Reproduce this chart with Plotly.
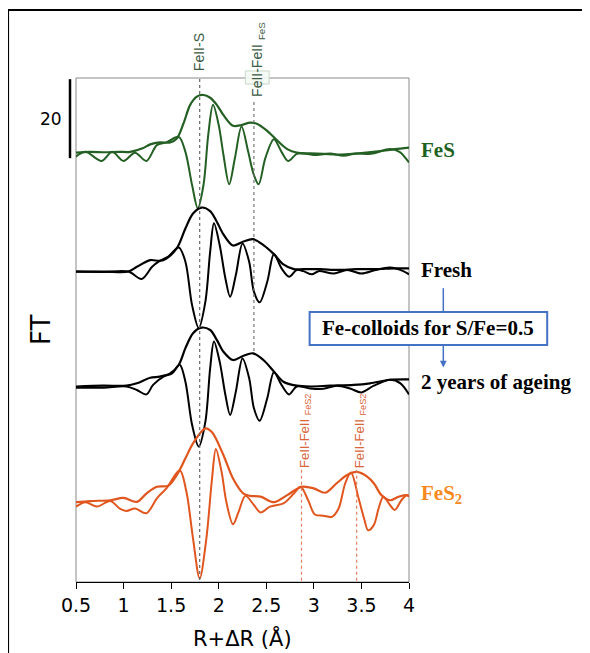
import plotly.graph_objects as go

# ---------------- data ----------------
r_fes_mag = [0.50, 0.65, 0.80, 0.95, 1.07, 1.20, 1.28, 1.38, 1.49, 1.56, 1.63, 1.70, 1.77, 1.84, 1.91,
             1.98, 2.05, 2.15, 2.24, 2.33, 2.40, 2.50, 2.61, 2.72, 2.82, 2.96, 3.10, 3.24, 3.40, 3.55,
             3.70, 3.85, 4.00]
fes_mag = [0.6, 0.8, 0.7, 0.8, 0.8, 1.7, 2.7, 3.2, 3.2, 4.2, 8.0, 12.7, 14.8, 15.2, 14.5,
           12.7, 10.1, 7.4, 7.6, 8.2, 7.9, 6.3, 3.8, 1.5, 0.6, 0.4, 0.3, 0.1, 0.3, 0.6,
           1.0, 1.5, 1.9]
r_fes_im = [0.50, 0.60, 0.77, 0.88, 1.00, 1.12, 1.24, 1.35, 1.45, 1.58, 1.65, 1.72, 1.78, 1.84, 1.89,
            1.94, 2.00, 2.05, 2.11, 2.17, 2.24, 2.31, 2.37, 2.42, 2.49, 2.58, 2.66, 2.73, 2.82, 2.89,
            3.03, 3.17, 3.31, 3.45, 3.60, 3.80, 3.90, 4.00]
fes_im = [-0.4, 0.8, -1.5, 0.8, -1.5, 0.6, -1.5, 2.5, 3.2, 4.6, 0.8, -7.6, -13.5, -7.6, 5.1,
          12.7, 7.6, 0.0, -7.4, -0.8, 7.2, 0.8, -5.1, -7.4, -0.8, 4.0, 0.8, -1.5, 0.3, 0.4,
          0.0, 0.4, -0.2, 0.4, 0.3, 1.5, 0.8, -1.9]

r_fresh_mag = [0.50, 0.80, 1.05, 1.14, 1.28, 1.38, 1.45, 1.56, 1.65, 1.73, 1.82, 1.91, 1.98, 2.05, 2.15,
               2.26, 2.36, 2.47, 2.58, 2.68, 2.79, 2.89, 3.07, 3.25, 3.45, 3.65, 3.85, 4.00]
fresh_mag = [0.2, 0.2, 0.2, 1.4, 3.1, 2.9, 3.5, 6.1, 11.1, 14.9, 16.4, 15.5, 12.8, 9.6, 6.8,
             7.8, 8.4, 6.9, 4.6, 2.0, 0.8, 0.8, 0.8, 0.6, 0.8, 0.8, 1.0, 1.0]
r_fresh_im = [0.50, 0.80, 1.05, 1.19, 1.30, 1.38, 1.47, 1.58, 1.65, 1.72, 1.79, 1.86, 1.91, 1.95, 2.01,
              2.07, 2.12, 2.18, 2.25, 2.32, 2.37, 2.43, 2.51, 2.58, 2.66, 2.74, 2.82, 2.89, 2.98, 3.05,
              3.21, 3.35, 3.50, 3.65, 3.80, 3.94, 4.00]
fresh_im = [0.2, 0.1, 0.2, -1.7, 1.4, 2.9, 4.0, 6.3, 2.7, -8.3, -14.1, -7.4, 5.2, 12.4, 6.9,
            -1.5, -6.2, -0.7, 7.3, 2.7, -4.9, -7.6, -2.4, 4.6, 1.0, -1.1, 0.6, 0.3, -0.5, 0.3,
            -0.3, 0.6, -0.3, 0.6, 1.2, 0.3, -0.5]

r_aged_mag = [0.50, 0.79, 1.03, 1.14, 1.28, 1.38, 1.49, 1.58, 1.65, 1.73, 1.82, 1.91, 1.98, 2.05, 2.15,
              2.26, 2.36, 2.47, 2.58, 2.68, 2.82, 2.96, 3.17, 3.42, 3.59, 3.80, 4.00]
aged_mag = [0.2, 0.4, 0.4, 1.0, 2.4, 2.7, 3.5, 5.7, 9.9, 13.7, 15.1, 14.5, 12.0, 9.0, 6.9,
            8.0, 8.6, 6.9, 4.0, 1.4, 0.4, 0.2, 0.4, 0.6, 1.0, 1.9, 2.0]
r_aged_im = [0.50, 0.79, 1.03, 1.14, 1.24, 1.31, 1.42, 1.51, 1.59, 1.65, 1.72, 1.79, 1.86, 1.91, 1.95,
             2.01, 2.07, 2.12, 2.18, 2.25, 2.32, 2.37, 2.43, 2.51, 2.58, 2.66, 2.74, 2.82, 2.96, 3.10,
             3.24, 3.38, 3.50, 3.63, 3.80, 3.91, 4.00]
aged_im = [-0.1, -0.1, 0.2, -0.7, -1.8, 0.6, 2.7, 3.5, 5.7, 1.4, -9.5, -15.0, -8.7, 4.8, 11.6,
           6.5, -1.9, -7.0, -1.1, 7.3, 2.3, -5.3, -8.5, -2.8, 3.8, 0.6, -1.8, 0.2, -0.3, -0.4,
           0.4, -0.3, -1.3, 0.4, 1.9, 1.0, -1.8]

r_fes2_mag = [0.50, 0.65, 0.86, 1.00, 1.14, 1.24, 1.35, 1.47, 1.56, 1.65, 1.73, 1.86, 1.93, 2.05, 2.15,
              2.26, 2.33, 2.44, 2.58, 2.72, 2.87, 3.00, 3.12, 3.24, 3.35, 3.45, 3.56, 3.63, 3.71, 3.80,
              3.89, 3.96, 4.00]
fes2_mag = [0.3, 0.6, 0.8, 1.4, 0.4, 2.5, 4.2, 4.5, 7.2, 11.4, 15.2, 19.0, 18.0, 12.2, 6.3,
            2.5, 1.9, 1.7, 0.3, 2.1, 4.2, 3.8, 2.7, 5.1, 7.2, 8.0, 6.8, 5.1, 2.1, 0.8,
            1.7, 2.1, 1.9]
r_fes2_im = [0.50, 0.60, 0.72, 0.86, 0.96, 1.03, 1.12, 1.24, 1.35, 1.45, 1.59, 1.66, 1.73, 1.80, 1.87,
             1.93, 1.97, 2.03, 2.08, 2.15, 2.21, 2.28, 2.37, 2.44, 2.54, 2.68, 2.79, 2.86, 2.94, 3.01,
             3.10, 3.19, 3.26, 3.33, 3.39, 3.47, 3.53, 3.57, 3.63, 3.68, 3.73, 3.80, 3.85, 3.92, 3.98,
             4.00]
fes2_im = [-0.8, 0.3, -0.8, 0.6, -1.3, -1.9, -1.3, -2.5, 1.3, 3.8, 8.4, 3.0, -8.9, -19.0, -8.9,
           6.3, 13.8, 8.0, 0.4, -5.3, -2.1, 1.9, -0.4, -2.3, -0.8, 0.0, 2.5, 4.2, 0.8, -2.8,
           -3.1, -3.4, -1.3, 5.1, 7.8, 1.3, -4.0, -6.8, -5.5, -1.3, 1.7, -0.4, -1.7, 0.8, 2.1,
           1.7]

sample_names = ["FeS", "Fresh", "2 years of ageing", "FeS<sub>2</sub>"]
x_ticks = [0.5, 1, 1.5, 2, 2.5, 3, 3.5, 4]
tick_text = ["0.5", "1", "1.5", "2", "2.5", "3", "3.5", "4"]
scale_bar_value = 20
path_positions = [1.80, 2.37, 2.87, 3.45]

# ---------------- styling ----------------
offsets = [108.1, 78.4, 49.3, 19.9]
colors = ["#245f24", "#000000", "#000000", "#e0561e"]
label_colors = ["#1f621f", "#000000", "#000000", "#f7891d"]
label_y = [109.4, 79.0, 50.6, 22.2]
Y_TOP = 127.6

series = [
    (r_fes_mag, fes_mag, r_fes_im, fes_im),
    (r_fresh_mag, fresh_mag, r_fresh_im, fresh_im),
    (r_aged_mag, aged_mag, r_aged_im, aged_im),
    (r_fes2_mag, fes2_mag, r_fes2_im, fes2_im),
]

fig = go.Figure()
for (rm, m, ri, im), off, col in zip(series, offsets, colors):
    fig.add_trace(go.Scatter(x=ri, y=[v + off for v in im], mode="lines",
                             line=dict(color=col, width=2, shape="spline", smoothing=0.9),
                             hoverinfo="skip", showlegend=False))
    fig.add_trace(go.Scatter(x=rm, y=[v + off for v in m], mode="lines",
                             line=dict(color=col, width=2.2, shape="spline", smoothing=0.9),
                             hoverinfo="skip", showlegend=False))

shapes = []
# plot frame (gray)
shapes.append(dict(type="rect", xref="paper", yref="paper", x0=0, x1=1, y0=0, y1=1,
                   line=dict(color="#8a8a8a", width=1), layer="below"))
# outer black border
shapes.append(dict(type="rect", xref="paper", yref="paper", x0=-0.204, x1=1.65, y0=-0.3, y1=1.135,
                   line=dict(color="#000000", width=2), layer="below"))
# scale bar
shapes.append(dict(type="line", xref="paper", yref="y", x0=-0.018, x1=-0.018,
                   y0=Y_TOP - 0.3 - scale_bar_value, y1=Y_TOP - 0.3,
                   line=dict(color="#000000", width=2.5)))
# dashed guide lines
shapes.append(dict(type="line", xref="x", yref="y", x0=path_positions[0], x1=path_positions[0],
                   y0=0.5, y1=Y_TOP + 1.0, line=dict(color="#666666", width=1.2, dash="3px,3px")))
shapes.append(dict(type="line", xref="x", yref="y", x0=path_positions[1], x1=path_positions[1],
                   y0=58.5, y1=122.0, line=dict(color="#777777", width=1.2, dash="3px,3px")))
for p in path_positions[2:]:
    shapes.append(dict(type="line", xref="x", yref="y", x0=p, x1=p,
                       y0=0.3, y1=28.5, line=dict(color="#e08060", width=1.2, dash="3px,3px")))
# small light box behind FeII-FeII label
shapes.append(dict(type="rect", xref="x", yref="paper", x0=2.28, x1=2.53, y0=0.988, y1=1.014,
                   line=dict(color="#c8d8c8", width=1), fillcolor="rgba(245,250,245,0.9)", layer="above"))
# blue box
shapes.append(dict(type="rect", xref="paper", yref="paper", x0=0.7016, x1=1.415, y0=0.4702, y1=0.5357,
                   line=dict(color="#4472c4", width=2), fillcolor="white", layer="above"))
# blue connector above the box
shapes.append(dict(type="line", xref="paper", yref="paper", x0=1.103, x1=1.103, y0=0.5357, y1=0.583,
                   line=dict(color="#4472c4", width=1.5)))

annotations = []
for name, ly, lc in zip(sample_names, label_y, label_colors):
    annotations.append(dict(x=1.031, xref="paper", y=ly, yref="y", text="<b>%s</b>" % name,
                            showarrow=False, xanchor="left", yanchor="middle",
                            font=dict(family="Liberation Serif", size=21, color=lc)))
annotations.append(dict(x=1.058, xref="paper", y=0.503, yref="paper",
                        text="<b>Fe-colloids for S/Fe=0.5</b>", showarrow=False,
                        xanchor="center", yanchor="middle",
                        font=dict(family="Liberation Serif", size=21, color="#000000")))
# blue arrow below box
annotations.append(dict(x=1.103, xref="paper", y=0.4255, yref="paper", text="",
                        showarrow=True, ax=0, ay=-24, arrowhead=2, arrowsize=0.9,
                        arrowwidth=1.5, arrowcolor="#4472c4"))
# scale bar value
annotations.append(dict(x=-0.035, xref="paper", y=Y_TOP - 10.3, yref="y", text=str(scale_bar_value),
                        showarrow=False, xanchor="right", yanchor="middle",
                        font=dict(family="DejaVu Sans", size=17, color="#000000")))
# path labels
annotations.append(dict(x=path_positions[0], xref="x", y=1.009, yref="paper", text="FeII-S",
                        textangle=-90, showarrow=False, xanchor="center", yanchor="bottom",
                        font=dict(family="Liberation Sans", size=14, color="#3d5a45")))
annotations.append(dict(x=path_positions[1] + 0.035, xref="x", y=0.958, yref="paper",
                        text="FeII-FeII <sub>FeS</sub>",
                        textangle=-90, showarrow=False, xanchor="center", yanchor="bottom",
                        font=dict(family="Liberation Sans", size=14, color="#3d5a45")))
for p in path_positions[2:]:
    annotations.append(dict(x=p + 0.035, xref="x", y=28.3, yref="y",
                            text="FeII-FeII <sub>FeS2</sub>",
                            textangle=-90, showarrow=False, xanchor="center", yanchor="bottom",
                            font=dict(family="Liberation Sans", size=13, color="#d9653b")))
# axis titles
annotations.append(dict(x=-0.105, xref="paper", y=0.5, yref="paper", text="FT", textangle=-90,
                        showarrow=False, xanchor="center", yanchor="middle",
                        font=dict(family="DejaVu Sans", size=26, color="#000000")))
annotations.append(dict(x=0.5, xref="paper", y=-0.111, yref="paper", text="R+ΔR (Å)",
                        showarrow=False, xanchor="center", yanchor="middle",
                        font=dict(family="DejaVu Sans", size=21, color="#000000")))

# page body adds an 8 px margin, so the figure is 8 px smaller on each axis
fig.update_layout(
    width=582, height=645,
    margin=dict(l=68, r=180.5, t=70, b=71),
    paper_bgcolor="white", plot_bgcolor="white",
    shapes=shapes, annotations=annotations,
    xaxis=dict(range=[0.5, 4.0], tickvals=x_ticks, ticktext=tick_text, ticks="outside",
               ticklen=6, tickwidth=1, tickcolor="#000000", showline=True, linecolor="#000000",
               linewidth=1, showgrid=False, zeroline=False,
               tickfont=dict(family="DejaVu Sans", size=19, color="#000000")),
    yaxis=dict(range=[0, Y_TOP], showticklabels=False, showgrid=False, zeroline=False,
               showline=False, ticks=""),
)

fig.write_html("out.html")
